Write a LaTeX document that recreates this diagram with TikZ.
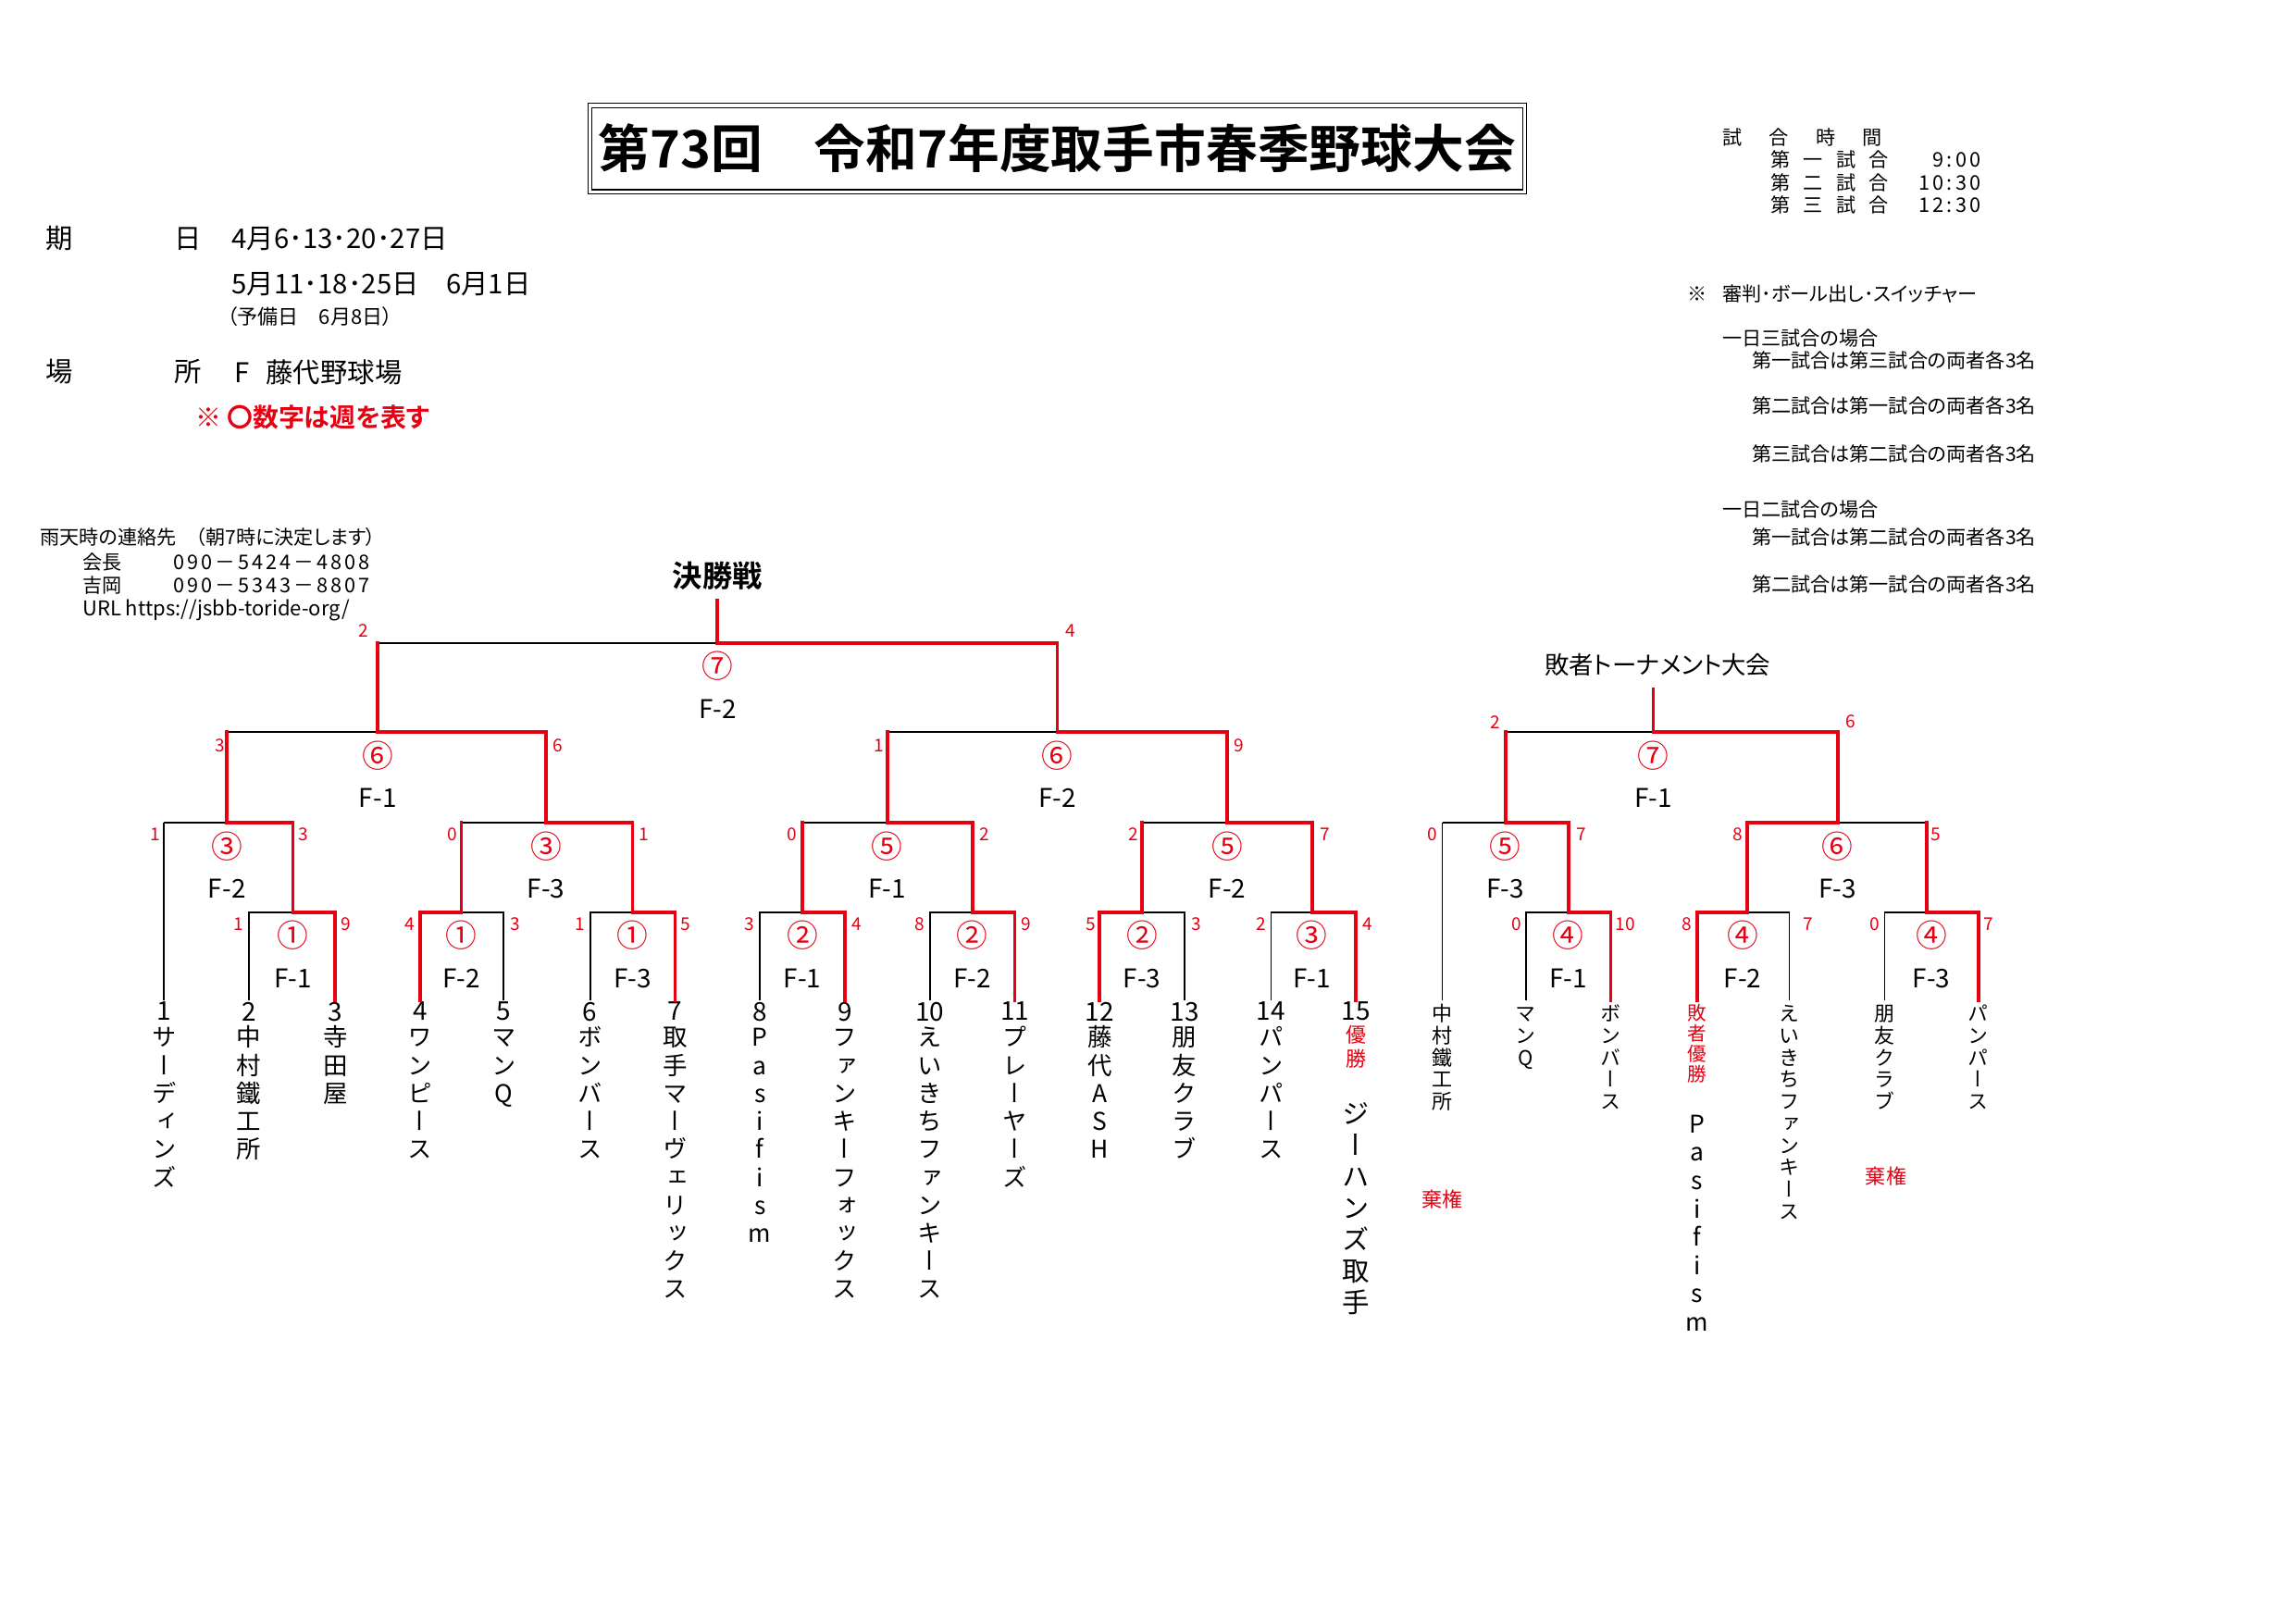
\documentclass[tikz,border=0pt]{standalone}
\usepackage{fontspec}
\setmainfont{Noto Sans CJK JP}[RawFeature=+palt, BoldFont={Noto Sans CJK JP Bold}]
\newfontfamily\tatefont{Noto Sans CJK JP}[RawFeature=+vert]
\newfontfamily\numfont{Noto Sans CJK JP}[LetterSpace=14]
\definecolor{winred}{RGB}{230,0,18}

% stack the letters of a name one under the other
\makeatletter
\newcommand\tate[2][10.3pt]{\vtop{\offinterlineskip\@tfor\tch:=#2\do{\hbox to 1.2em{\hss\vrule width 0pt height \dimexpr#1*8/10\relax depth \dimexpr#1*2/10\relax\smash{\tch}\hss}}}}
\makeatother

\begin{document}
\begin{tikzpicture}[x=0.18941mm, y=-0.18941mm,
    win/.style={draw=winred, line width=1.3pt, line cap=rect},
    lose/.style={draw=black, line width=0.6pt},
    score/.style={text=winred, font=\fontsize{6.5}{7}\selectfont, inner sep=0pt},
    wk/.style={text=winred, font=\fontsize{11.5}{12}\selectfont, inner sep=0pt},
    fld/.style={font=\fontsize{9.5}{10}\selectfont, inner sep=0pt},
    num/.style={anchor=north, font=\fontsize{9.5}{10}\selectfont, inner sep=0pt},
    team/.style={anchor=north, font=\tatefont\fontsize{9}{10}\selectfont, inner sep=0pt},
    smallteam/.style={anchor=north, font=\tatefont\fontsize{7.5}{8}\selectfont, inner sep=0pt},
    info/.style={anchor=west, font=\fontsize{10}{12}\selectfont, inner sep=0pt},
    note/.style={anchor=west, font=\fontsize{7.2}{8}\selectfont, inner sep=0pt},
    tel/.style={anchor=west, font=\numfont\fontsize{7.4}{8}\selectfont, inner sep=0pt}]

\useasboundingbox (0,0) rectangle (1568,1109);

% Title
\node[draw, double, double distance=0.45mm, line width=0.35pt, minimum width=120.9mm, minimum height=11.2mm,
      inner sep=0pt, font=\bfseries\fontsize{19}{20}\selectfont] (title) at (722,101.5) {第73回　令和7年度取手市春季野球大会};

% Dates and ground
\node[info] (ki) at (31,163) {期};
\node[info] (hi) at (119,163) {日};
\node[info] (d1) at (158,163) {4月6･13･20･27日};
\node[info] (d2) at (158,194) {5月11･18･25日　6月1日};
\node[info, font=\fontsize{7.5}{8}\selectfont] (d3) at (155,216) {（予備日　6月8日）};
\node[info] (ba) at (31,254) {場};
\node[info] (sho) at (119,254) {所};
\node[info] (grd) at (160,254) {F\hspace{0.6em}藤代野球場};
\node[info, text=winred, font=\bfseries\fontsize{9.5}{11}\selectfont] (memo) at (133,285) {※ 〇数字は週を表す};

% Contact
\node[note] (rain) at (27,367) {雨天時の連絡先　（朝7時に決定します）};
\node[note] (c1) at (56,384) {会長};
\node[tel] (c1n) at (118,384) {090－5424－4808};
\node[note] (c2) at (56,400) {吉岡};
\node[tel] (c2n) at (118,400) {090－5343－8807};
\node[note, font=\fontsize{7.5}{8}\selectfont] (url) at (56,417) {URL https://jsbb-toride-org/};

% Game times
\node[note] (jk) at (1176,94) {試\hspace{3.5mm}合\hspace{3.5mm}時\hspace{3.5mm}間};
\node[note] (g1) at (1209,109) {第\hspace{1.7mm}一\hspace{1.7mm}試\hspace{1.7mm}合};
\node[note] (g2) at (1209,125) {第\hspace{1.7mm}二\hspace{1.7mm}試\hspace{1.7mm}合};
\node[note] (g3) at (1209,140) {第\hspace{1.7mm}三\hspace{1.7mm}試\hspace{1.7mm}合};
\node[tel, anchor=east] (h1) at (1353,109) {9:00};
\node[tel, anchor=east] (h2) at (1353,125) {10:30};
\node[tel, anchor=east] (h3) at (1353,140) {12:30};

% Umpires
\node[note] (ump) at (1152,201) {※\hspace{2mm}審判･ボール出し･スイッチャー};
\node[note] (u3) at (1176,231) {一日三試合の場合};
\node[note] (u31) at (1196,246) {第一試合は第三試合の両者各3名};
\node[note] (u32) at (1196,277) {第二試合は第一試合の両者各3名};
\node[note] (u33) at (1196,310) {第三試合は第二試合の両者各3名};
\node[note] (u2) at (1176,348) {一日二試合の場合};
\node[note] (u21) at (1196,367) {第一試合は第二試合の両者各3名};
\node[note] (u22) at (1196,399) {第二試合は第一試合の両者各3名};

% Headings
\node[font=\bfseries\fontsize{11}{12}\selectfont, inner sep=0pt] (kesho) at (490,393) {決勝戦};
\node[font=\fontsize{9}{10}\selectfont, inner sep=0pt] (haisha) at (1132,454) {敗者トーナメント大会};

% Main bracket
\coordinate (Ftop) at (490,410);
\coordinate (F) at (490,439);  \coordinate (Fl) at (258,439);  \coordinate (Fr) at (722,439);
\coordinate (SA) at (258,500); \coordinate (SAl) at (155,500); \coordinate (SAr) at (373,500);
\coordinate (SB) at (722,500); \coordinate (SBl) at (606,500); \coordinate (SBr) at (838,500);
\coordinate (QA) at (155,562); \coordinate (QAl) at (112,562); \coordinate (QAr) at (200,562);
\coordinate (QB) at (373,562); \coordinate (QBl) at (315,562); \coordinate (QBr) at (432,562);
\coordinate (QC) at (606,562); \coordinate (QCl) at (548,562); \coordinate (QCr) at (664,562);
\coordinate (QD) at (838,562); \coordinate (QDl) at (780,562); \coordinate (QDr) at (896,562);
\coordinate (M1) at (200,623); \coordinate (M1l) at (170,623); \coordinate (M1r) at (229,623);
\coordinate (M2) at (315,623); \coordinate (M2l) at (287,623); \coordinate (M2r) at (344,623);
\coordinate (M3) at (432,623); \coordinate (M3l) at (403,623); \coordinate (M3r) at (461,623);
\coordinate (M4) at (548,623); \coordinate (M4l) at (519,623); \coordinate (M4r) at (577,623);
\coordinate (M5) at (664,623); \coordinate (M5l) at (635,623); \coordinate (M5r) at (693,623);
\coordinate (M6) at (780,623); \coordinate (M6l) at (751,623); \coordinate (M6r) at (809,623);
\coordinate (M7) at (896,623); \coordinate (M7l) at (868,623); \coordinate (M7r) at (926,623);
\foreach \n/\x in {1/112,2/170,3/229,4/287,5/344,6/403,7/461,8/519,9/577,10/635,11/693,12/751,13/809,14/868,15/926}
  {\coordinate (p\n) at (\x,683); \node[num] (n\n) at (\x,684) {\n};}

% Losers' bracket
\coordinate (Ltop) at (1129,471);
\coordinate (L) at (1129,500);  \coordinate (Ll) at (1028,500);  \coordinate (Lr) at (1255,500);
\coordinate (LA) at (1028,562); \coordinate (LAl) at (985,562);  \coordinate (LAr) at (1071,562);
\coordinate (LB) at (1255,562); \coordinate (LBl) at (1193,562); \coordinate (LBr) at (1316,562);
\coordinate (K1) at (1071,623); \coordinate (K1l) at (1042,623); \coordinate (K1r) at (1100,623);
\coordinate (K2) at (1193,623); \coordinate (K2l) at (1159,623); \coordinate (K2r) at (1222,623);
\coordinate (K3) at (1316,623); \coordinate (K3l) at (1287,623); \coordinate (K3r) at (1351,623);
\foreach \n/\x in {1/985,2/1042,3/1100,4/1159,5/1222,6/1287,7/1351}
  \coordinate (q\n) at (\x,683);

% Lines of the losers
\draw[lose] (Fl) -- (F) (SAl) -- (SA) (SBl) -- (SB);
\draw[lose] (QAl) -- (QA) (QBl) -- (QB) (QCl) -- (QC) (QDl) -- (QD);
\draw[lose] (QAl) -- (p1);
\draw[lose] (p2) -- (M1l) -- (M1);
\draw[lose] (M2) -- (M2r) -- (p5);
\draw[lose] (p6) -- (M3l) -- (M3);
\draw[lose] (p8) -- (M4l) -- (M4);
\draw[lose] (p10) -- (M5l) -- (M5);
\draw[lose] (M6) -- (M6r) -- (p13);
\draw[lose] (p14) -- (M7l) -- (M7);
\draw[lose] (Ll) -- (L) (LAl) -- (LA) (LB) -- (LBr);
\draw[lose] (q1) -- (LAl);
\draw[lose] (q2) -- (K1l) -- (K1);
\draw[lose] (K2) -- (K2r) -- (q5);
\draw[lose] (q6) -- (K3l) -- (K3);

% Lines of the winners
\draw[win] (Ftop) -- (F) -- (Fr) -- (SB) -- (SBr) -- (QD) -- (QDr) -- (M7) -- (M7r) -- (p15);
\draw[win] (Fl) -- (SA) -- (SAr) -- (QB) -- (QBr) -- (M3) -- (M3r) -- (p7);
\draw[win] (SAl) -- (QA) -- (QAr) -- (M1) -- (M1r) -- (p3);
\draw[win] (QBl) -- (M2) -- (M2l) -- (p4);
\draw[win] (SBl) -- (QC) -- (QCr) -- (M5) -- (M5r) -- (p11);
\draw[win] (QCl) -- (M4) -- (M4r) -- (p9);
\draw[win] (QDl) -- (M6) -- (M6l) -- (p12);
\draw[win] (Ltop) -- (L) -- (Lr) -- (LB) -- (LBl) -- (K2) -- (K2l) -- (q4);
\draw[win] (Ll) -- (LA) -- (LAr) -- (K1) -- (K1r) -- (q3);
\draw[win] (LBr) -- (K3) -- (K3r) -- (q7);

% Week and field of each game
\foreach \m/\x/\y/\w/\f in {F/490/439/⑦/F-2, SA/258/500/⑥/F-1, SB/722/500/⑥/F-2,
    QA/155/562/③/F-2, QB/373/562/③/F-3, QC/606/562/⑤/F-1, QD/838/562/⑤/F-2,
    M1/200/623/①/F-1, M2/315/623/①/F-2, M3/432/623/①/F-3, M4/548/623/②/F-1,
    M5/664/623/②/F-2, M6/780/623/②/F-3, M7/896/623/③/F-1,
    L/1129/500/⑦/F-1, LA/1028/562/⑤/F-3, LB/1255/562/⑥/F-3,
    K1/1071/623/④/F-1, K2/1190/623/④/F-2, K3/1319/623/④/F-3}
  {\node[wk] (w\m) at (\x,\y+16) {\w}; \node[fld] (f\m) at (\x,\y+45) {\f};}

% Scores
\foreach \id/\x/\y/\t in {Fl/248/431/2, Fr/731/431/4, SAl/150/509/3, SAr/381/509/6,
    SBl/600/509/1, SBr/846/509/9, QAl/106/570/1, QAr/207/570/3, QBl/309/570/0, QBr/440/570/1,
    QCl/541/570/0, QCr/672/570/2, QDl/774/570/2, QDr/905/570/7,
    M1l/163/631/1, M1r/236/631/9, M2l/280/631/4, M2r/352/631/3, M3l/396/631/1, M3r/468/631/5,
    M4l/512/631/3, M4r/585/631/4, M5l/628/631/8, M5r/701/631/9, M6l/745/631/5, M6r/817/631/3,
    M7l/861/631/2, M7r/934/631/4,
    Ll/1021/493/2, Lr/1264/493/6, LAl/978/570/0, LAr/1080/570/7, LBl/1187/570/8, LBr/1322/570/5,
    K1l/1036/631/0, K1r/1110/631/10, K2l/1152/631/8, K2r/1235/631/7, K3l/1280/631/0, K3r/1358/631/7}
  \node[score] (s\id) at (\x,\y) {\t};

% Teams
\node[team] (t1) at (112,699) {\tate{サーディンズ}};
\node[team] (t2) at (170,699) {\tate{中村鐵工所}};
\node[team] (t3) at (229,699) {\tate{寺田屋}};
\node[team] (t4) at (287,699) {\tate{ワンピース}};
\node[team] (t5) at (344,699) {\tate{マンQ}};
\node[team] (t6) at (403,699) {\tate{ボンバース}};
\node[team] (t7) at (461,699) {\tate{取手マーヴェリックス}};
\node[team] (t8) at (519,699) {\tate{Pasifism}};
\node[team] (t9) at (577,699) {\tate{ファンキーフォックス}};
\node[team] (t10) at (635,699) {\tate{えいきちファンキース}};
\node[team] (t11) at (693,699) {\tate{プレーヤーズ}};
\node[team] (t12) at (751,699) {\tate{藤代ASH}};
\node[team] (t13) at (809,699) {\tate{朋友クラブ}};
\node[team] (t14) at (868,699) {\tate{パンパース}};
\node[smallteam, text=winred] (v15) at (926,699) {\tate[8.6pt]{優勝}};
\node[team, font=\tatefont\fontsize{10}{11}\selectfont] (t15) at (926,750) {\tate[11.6pt]{ジーハンズ取手}};

\node[smallteam] (u1) at (985,685) {\tate[8.1pt]{中村鐵工所}};
\node[smallteam] (u2) at (1042,685) {\tate[8.1pt]{マンQ}};
\node[smallteam] (u3) at (1100,685) {\tate[8.1pt]{ボンバース}};
\node[smallteam, text=winred, font=\tatefont\fontsize{7}{8}\selectfont] (v4) at (1159,685) {\tate[7.5pt]{敗者優勝}};
\node[team] (u4) at (1159,758) {\tate[10.4pt]{Pasifism}};
\node[smallteam] (u5) at (1222,685) {\tate[8.1pt]{えいきちファンキース}};
\node[smallteam] (u6) at (1287,685) {\tate[8.1pt]{朋友クラブ}};
\node[smallteam] (u7) at (1351,685) {\tate[8.1pt]{パンパース}};
\node[text=winred, font=\fontsize{7.5}{8}\selectfont, inner sep=0pt] (kk1) at (985,819) {棄権};
\node[text=winred, font=\fontsize{7.5}{8}\selectfont, inner sep=0pt] (kk2) at (1288,803) {棄権};
\end{tikzpicture}
\end{document}
